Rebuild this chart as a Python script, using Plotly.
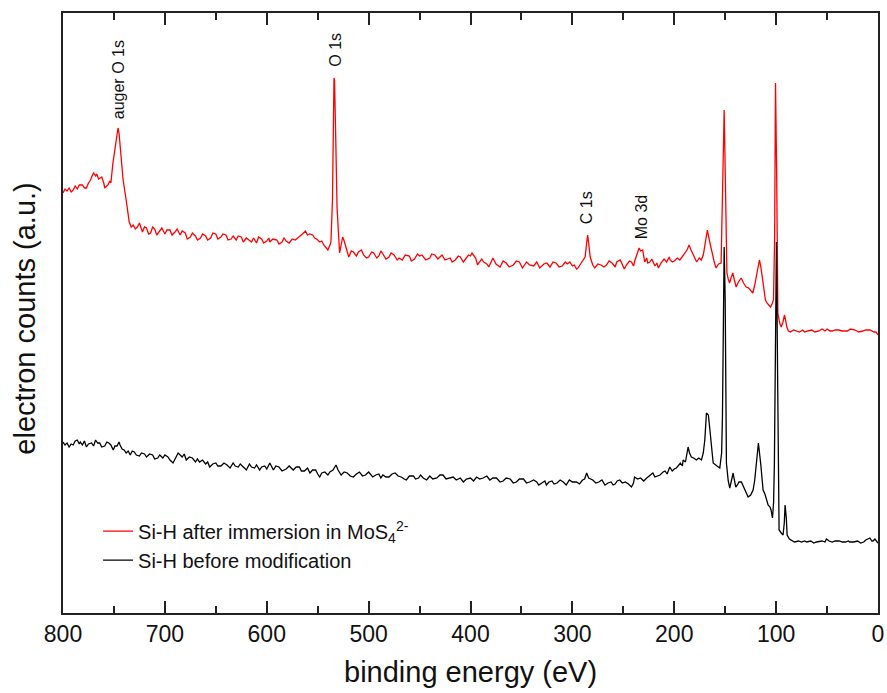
import plotly.graph_objects as go

# (binding energy eV, intensity a.u.)
red_points = [
    (800, 420), (798, 424), (796, 422), (794, 425), (792, 421), (790, 423), (788, 427), (786, 424), (784, 428),
    (781, 428), (779, 425), (777, 425), (775, 430), (773, 433), (771, 438), (770, 440), (768, 437), (767, 439),
    (765, 434), (764, 435), (762, 436), (760, 430), (759, 425), (757, 427), (756, 428), (754, 432), (753, 430),
    (751, 450), (749, 466), (747, 480), (746, 485), (745, 480), (744, 470), (741, 433), (738, 413),
    (735, 391), (733, 386), (731, 388), (729, 384), (727, 386), (725, 390), (722, 381), (720, 386), (718, 385),
    (716, 379), (714, 380), (712, 386), (710, 384), (708, 378), (705, 382), (703, 385), (700, 379), (698, 383),
    (695, 383), (693, 378), (690, 381), (688, 384), (685, 378), (683, 382), (680, 380), (678, 374), (675, 376),
    (673, 380), (670, 377), (668, 373), (665, 375), (663, 379), (660, 377), (658, 373), (655, 375), (653, 380),
    (650, 379), (648, 374), (645, 376), (643, 379), (640, 378), (638, 373), (635, 374), (633, 377), (630, 373),
    (628, 377), (625, 376), (623, 371), (620, 375), (618, 373), (615, 371), (613, 375), (610, 370), (608, 376),
    (605, 374), (603, 370), (600, 372), (598, 375), (597, 371), (594, 374), (590, 373), (588, 369), (585, 371),
    (583, 375), (581, 372), (578, 370), (575, 374), (572, 373), (568, 376), (565, 379), (562, 382), (560, 378),
    (558, 379), (555, 378), (553, 375), (551, 374), (548, 371), (546, 372), (544, 368), (542, 366), (540, 363),
    (538, 368), (537, 371), (535.5, 413), (534, 535), (533.5, 533), (532.5, 486), (531, 406), (528.5, 360),
    (527, 368), (525.5, 376), (524, 372), (522.5, 366), (521, 360), (519.5, 356), (517, 362), (515, 361),
    (512, 357), (510, 361), (507, 363), (505, 358), (502, 355), (500, 356), (497, 361), (495, 360), (492, 355),
    (490, 357), (488, 362), (486.5, 360), (483, 354), (480, 356), (478, 360), (475, 358), (472, 353), (470, 355),
    (467, 353), (464, 358), (460, 357), (458, 352), (455, 354), (452, 359), (450, 357), (447.5, 358), (444, 353),
    (440, 355), (438, 359), (435, 358), (432, 354), (428, 358), (425, 353), (420, 355), (418, 351), (415, 353),
    (412, 357), (410, 356), (407, 351), (405, 354), (402, 358), (400, 357), (398.5, 360), (395, 355), (393, 348),
    (392, 350), (389, 354), (387, 351), (384, 349), (382, 346), (380, 350), (378, 355), (375, 349), (371, 346),
    (368, 352), (365, 350), (362, 346), (358, 348), (355, 352), (352, 351), (349, 345), (345, 351), (342, 348),
    (338, 347), (335, 351), (332, 345), (328, 349), (325, 350), (322, 346), (319, 351), (316, 350), (313, 346),
    (310, 347), (307, 351), (305, 349), (302.5, 351), (300, 347), (298, 348), (296, 344), (294.5, 345),
    (292, 349), (289, 353), (287.5, 356), (286, 370), (285, 378), (284, 370), (282.5, 356), (280, 348),
    (278, 345), (275, 349), (272, 348), (269, 346), (266.5, 348), (264, 352), (261, 350), (258, 346),
    (256.5, 351), (253, 353), (251, 348), (249, 344), (247, 348), (244, 352), (242, 351), (240, 347),
    (238.5, 353), (236, 361), (234.5, 365), (233, 362), (231, 363), (229, 351), (227, 355), (226, 350),
    (224, 351), (222, 354), (219, 347), (217, 350), (215.5, 345), (213, 350), (210, 354), (207.5, 351),
    (205, 356), (204, 353), (202, 351), (200, 352), (197, 355), (194.5, 353), (192, 356), (189.5, 360),
    (187, 364), (185.5, 368), (183.5, 363), (181.5, 358), (179, 352), (178, 351), (175.5, 355), (173.5, 353),
    (171.5, 358), (170, 368), (168.5, 378), (167.5, 383), (166, 375), (163.5, 363), (161, 352), (159, 345),
    (156.5, 349), (154, 350), (152.5, 413), (151, 503), (150, 443), (149, 373), (148.3, 340), (147, 334),
    (145.7, 330), (144, 336), (142.5, 340), (141, 333), (139.2, 326), (137, 331), (134.3, 335), (132, 330),
    (129.4, 326), (127, 325), (125, 323), (122.9, 320), (121, 328), (119, 340), (117.5, 350), (116.4, 353),
    (115, 346), (113.8, 336), (112, 322), (110.5, 313), (109, 310), (107, 308), (105.5, 306), (104, 309),
    (102.6, 313), (101.5, 373), (100.6, 530), (99.5, 443), (98.3, 300), (96.5, 290), (95, 286), (93.5, 290),
    (91.8, 298), (90.5, 292), (89.5, 286), (88, 282), (86, 281), (83, 283), (80, 282), (77, 281), (74, 283),
    (72, 281), (69, 282), (65, 283), (62, 281), (58, 282), (55, 284), (52, 282), (50, 284), (47, 282), (45, 282),
    (42, 283), (38.8, 283), (35, 282), (30, 282), (27, 284), (22.4, 283), (19, 281), (15, 282), (12, 283),
    (8, 283), (6, 282), (4, 281), (2, 281), (0, 278),
]

black_points = [
    (800, 171), (798, 168), (796, 170), (794, 166), (792, 169), (790, 168), (788, 172), (786, 173), (784, 169),
    (783, 171), (781, 168), (779, 172), (777, 166), (775, 169), (772, 170), (770, 167), (768, 173), (766, 170),
    (764, 170), (762, 166), (759, 167), (757, 171), (755, 170), (753, 168), (750.7, 163), (749, 167), (747, 167),
    (745, 171), (744, 168), (742, 164), (740, 163), (738, 160), (736, 162), (734, 158), (732, 162), (730, 161),
    (728, 158), (725, 157), (723, 160), (720, 159), (718, 156), (715, 159), (712, 158), (710, 154), (707, 155),
    (705, 158), (702, 155), (700, 158), (697, 156), (695, 153), (692, 150), (690, 154), (688, 157), (687, 160),
    (685, 158), (683, 156), (681, 159), (679, 153), (676, 156), (673, 155), (670, 151), (668, 154), (666, 151),
    (663, 153), (660, 149), (658, 151), (656, 146), (653, 149), (650, 150), (648, 147), (645, 147), (642, 150),
    (639, 148), (636, 145), (633, 150), (631, 147), (628, 146), (626, 149), (623, 146), (620, 143), (617, 149),
    (615, 146), (612, 145), (610, 148), (607, 143), (605, 146), (602, 147), (600, 144), (597, 150), (595, 146),
    (593.5, 143), (591, 147), (588, 146), (585, 142), (581, 144), (578, 147), (574, 143), (571, 146), (568, 146),
    (566, 142), (563, 142), (560, 145), (557.6, 140), (555, 143), (552, 143), (550, 139), (548, 136), (546, 140),
    (543, 141), (540, 138), (538, 141), (535, 143), (532, 148), (530, 143), (527, 138), (524, 141), (521, 140),
    (518, 137), (515, 136), (512, 139), (509, 141), (506, 137), (503, 138), (500, 141), (496, 136), (493, 138),
    (490, 139), (488, 135), (486, 138), (483, 136), (480, 136), (477, 139), (474, 140), (471, 137), (468, 136),
    (465, 134), (463, 133), (460, 137), (456, 137), (454, 134), (451, 135), (449, 138), (446.5, 135), (443, 133),
    (440, 137), (437, 134), (433, 135), (430, 138), (427, 138), (424, 134), (420, 135), (417, 136), (414, 133),
    (410, 135), (407, 131), (404, 134), (400, 135), (397, 132), (394, 136), (391, 134), (387.6, 135), (384, 137),
    (381, 133), (378, 135), (374.5, 135), (371, 131), (368, 132), (365, 135), (361, 134), (358, 130), (355, 131),
    (352, 134), (348, 134), (345, 130), (342, 131), (338, 133), (335, 131), (333, 128), (330, 130), (327, 132),
    (325.5, 128), (323, 131), (320, 132), (318, 129), (315, 130), (312, 133), (309, 131), (306, 128), (303, 133),
    (300, 131), (296, 131), (293, 129), (290, 133), (288, 134), (286, 140), (284, 135), (280, 133), (277, 130),
    (274, 131), (271, 133), (268, 128), (265, 130), (262, 131), (260, 128), (258, 129), (256, 132), (253.5, 133),
    (251, 130), (248, 131), (245, 129), (242, 126), (240, 130), (239, 136), (236, 134), (233, 135), (230, 132),
    (227, 135), (224, 138), (221, 140), (219, 136), (217, 137), (214, 138), (211, 141), (209, 142), (207, 139),
    (204.4, 146), (202, 142), (200, 144), (197.9, 145), (196, 148), (194, 150), (192, 147), (191.3, 153),
    (189, 151), (188, 157), (186.4, 166), (185, 160), (183.2, 156), (181, 155), (178.2, 153), (176, 155),
    (173.3, 153), (171.5, 160), (170, 173), (168.4, 200), (166.5, 198), (165, 183), (163, 160), (161.8, 150),
    (158, 147), (155.3, 145), (153.5, 160), (152.7, 196), (151, 366), (150, 313), (148.8, 150), (147, 132),
    (145.5, 125), (144, 132), (142.2, 140), (141, 133), (139.6, 126), (138, 128), (136.5, 131), (134.1, 131),
    (132, 126), (130, 123), (127.5, 116), (125, 118), (122.6, 123), (121, 133), (119.5, 148), (117.4, 170),
    (115, 148), (112.8, 123), (111, 119), (110, 116), (107.9, 108), (106, 106), (105, 103), (103.6, 95),
    (102.5, 110), (101.7, 150), (99.7, 371), (98.5, 233), (97.1, 83), (95, 80), (93.2, 78), (92, 90),
    (91.2, 108), (90, 95), (89.2, 78), (87, 74), (85, 73), (82, 71), (78, 72), (75, 71), (72, 72), (70, 71),
    (66, 72), (63, 70), (60.4, 71), (57, 72), (55, 72), (52, 71), (50.6, 74), (48, 72), (45, 71), (42, 72),
    (38, 72), (35, 71), (32, 71), (29, 72), (27.7, 71), (24, 71), (20, 72), (17, 70), (14, 71), (12, 73),
    (10, 74), (8, 75), (6, 72), (5, 72), (3, 74), (1, 72), (0, 70),
]

red_energy = [p[0] for p in red_points]
red_counts = [p[1] for p in red_points]
black_energy = [p[0] for p in black_points]
black_counts = [p[1] for p in black_points]

x_ticks = [800, 700, 600, 500, 400, 300, 200, 100, 0]
peak_labels = ["auger O 1s", "O 1s", "C 1s", "Mo 3d"]
peak_energy = [745.3, 533.3, 285.9, 232.4]
peak_label_base = [492, 544, 387, 372]

FONT = "Liberation Sans, Arial, sans-serif"

fig = go.Figure()
fig.add_trace(go.Scatter(x=red_energy, y=red_counts, mode="lines",
                         line=dict(color="#ff0000", width=1.3),
                         name="Si-H after immersion in MoS<sub>4</sub><sup>2-</sup>"))
fig.add_trace(go.Scatter(x=black_energy, y=black_counts, mode="lines",
                         line=dict(color="#000000", width=1.3),
                         name="Si-H before modification"))

for lab, e, b in zip(peak_labels, peak_energy, peak_label_base):
    fig.add_annotation(x=e, y=b, xref="x", yref="y", text=lab, textangle=-90,
                       showarrow=False, xanchor="center", yanchor="bottom",
                       font=dict(family=FONT, size=16, color="#111111"))

fig.add_annotation(x=0.5, y=-0.098, xref="paper", yref="paper", text="binding energy (eV)",
                   showarrow=False, xanchor="center", yanchor="middle",
                   font=dict(family=FONT, size=29, color="#111111"))
fig.add_annotation(x=-0.047, y=0.49, xref="paper", yref="paper", text="electron counts (a.u.)",
                   textangle=-90, showarrow=False, xanchor="center", yanchor="middle",
                   font=dict(family=FONT, size=29, color="#111111"))

fig.update_layout(
    width=887, height=693,
    margin=dict(l=63, r=9, t=13, b=80),
    paper_bgcolor="white", plot_bgcolor="white",
    font=dict(family=FONT, color="#111111"),
    showlegend=True,
    legend=dict(x=0.043, y=0.169, xanchor="left", yanchor="top",
                bgcolor="rgba(0,0,0,0)", font=dict(family=FONT, size=20, color="#111111"),
                tracegroupgap=0),
)
fig.update_xaxes(range=[800, 0], tickmode="array", tickvals=x_ticks, automargin=False,
                 ticks="inside", ticklen=12, tickwidth=1.5, tickcolor="#222222",
                 minor=dict(dtick=50, ticks="inside", ticklen=7, tickwidth=1.5, tickcolor="#222222"),
                 showline=True, linewidth=1.5, linecolor="#222222", mirror="allticks",
                 showgrid=False, zeroline=False,
                 tickfont=dict(family=FONT, size=23, color="#111111"))
fig.update_yaxes(range=[0, 600], showticklabels=False, ticks="", automargin=False,
                 showline=True, linewidth=1.5, linecolor="#222222", mirror=True,
                 showgrid=False, zeroline=False)

fig.write_html("out.html")
